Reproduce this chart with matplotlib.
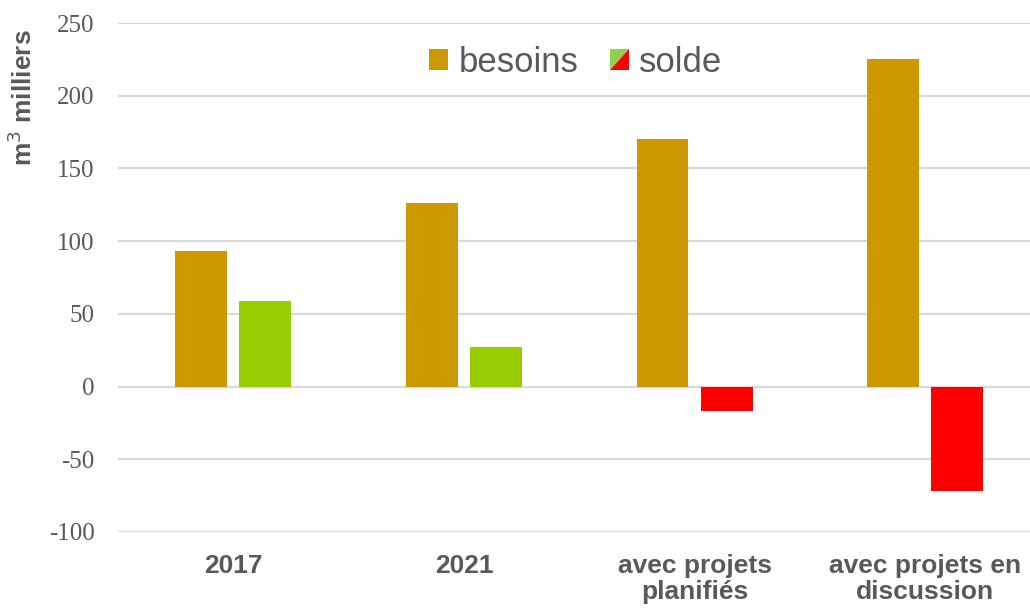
import matplotlib
matplotlib.use('Agg')
import matplotlib.pyplot as plt
from matplotlib.patches import Polygon, Rectangle
from matplotlib.legend_handler import HandlerBase
import numpy as np

plt.rcParams['axes.unicode_minus'] = False

categories = ['2017', '2021', 'avec projets\nplanifiés', 'avec projets en\ndiscussion']
besoins = [93, 126, 170, 225]
solde = [59, 27, -17, -72]

gold = '#CC9900'
green = '#99CC00'
red = '#FF0000'
grey = '#595959'


class SplitHandler(HandlerBase):
    # square split on the diagonal: green top-left, red bottom-right
    def create_artists(self, legend, orig_handle, xdescent, ydescent,
                       width, height, fontsize, trans):
        x0, y0 = -xdescent, -ydescent
        up = Polygon([[x0, y0], [x0, y0 + height], [x0 + width, y0 + height]],
                     closed=True, facecolor='#92D050', edgecolor='none', transform=trans)
        low = Polygon([[x0, y0], [x0 + width, y0], [x0 + width, y0 + height]],
                      closed=True, facecolor=red, edgecolor='none', transform=trans)
        return [up, low]


fig = plt.figure(figsize=(10.3, 6.08), dpi=100)
ax = fig.add_axes([118/1030, 76/608, 922.5/1030, 509/608])

x = np.arange(len(categories))
w = 0.225
off = 0.139
ax.bar(x - off, besoins, w, color=gold, zorder=3)
solde_cols = [green if v >= 0 else red for v in solde]
ax.bar(x + off, solde, w, color=solde_cols, zorder=3)

ax.set_xlim(-0.5, 3.5)
ax.set_ylim(-100, 250)
ax.set_yticks(range(-100, 251, 50))
ax.grid(axis='y', color='#D9D9D9', linewidth=1.6, zorder=0)
for s in ax.spines.values():
    s.set_visible(False)
ax.tick_params(length=0)
ax.tick_params(axis='y', pad=17)
ax.tick_params(axis='x', pad=16)
ax.set_xticks(x)
ax.set_xticklabels(categories, fontsize=19, fontweight='bold', color=grey,
                   family='Liberation Sans', linespacing=1.1)
for lab in ax.get_yticklabels():
    lab.set_family('Liberation Serif')
    lab.set_fontsize(18)
    lab.set_color(grey)

fig.text(23/1030, 1 - 98/608, 'm$^3$ milliers', rotation=90, ha='center', va='center',
         fontsize=19, fontweight='bold', color=grey, family='Liberation Sans')

h1 = Rectangle((0, 0), 1, 1, facecolor=gold)
h2 = Rectangle((0, 0), 1, 1)
leg = fig.legend([h1, h2], ['besoins', 'solde'], loc='center',
                 bbox_to_anchor=(576/1030, 1 - 62/608), ncol=2, frameon=False,
                 handler_map={h2: SplitHandler()},
                 prop={'family': 'Liberation Sans', 'size': 25},
                 handlelength=0.55, handleheight=0.55, handletextpad=0.3,
                 columnspacing=0.9)
for t in leg.get_texts():
    t.set_color(grey)

fig.savefig('out.png', dpi=100)
